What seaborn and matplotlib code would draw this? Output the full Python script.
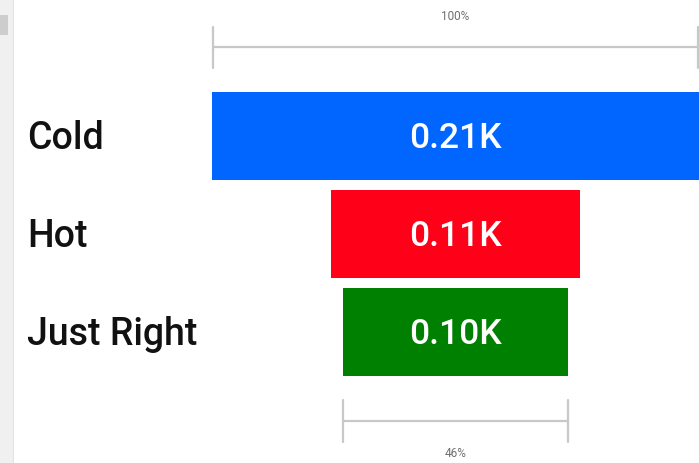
import matplotlib
matplotlib.use("Agg")
import matplotlib.pyplot as plt
import seaborn as sns
import pandas as pd
from matplotlib.patches import Rectangle

categories = ["Cold", "Hot", "Just Right"]
values = [210, 107, 97]
value_labels = ["0.21K", "0.11K", "0.10K"]
colors = ["#0066FF", "#FF0019", "#008000"]
top_pct = "100%"
bottom_pct = "46%"

sns.set_theme(style="white")
plt.rcParams["font.family"] = ["Roboto", "DejaVu Sans"]

fig = plt.figure(figsize=(6.99, 4.63), dpi=100)
ax = fig.add_axes([0, 0, 1, 1])

pal = dict(zip(categories, colors))
for sign in (1, -1):
    df = pd.DataFrame({"cat": categories, "half": [sign * v / 2 for v in values]})
    sns.barplot(data=df, y="cat", x="half", hue="cat", palette=pal, orient="h",
                width=0.9, dodge=False, legend=False, ax=ax, saturation=1,
                errorbar=None, linewidth=0)

ax.set_xlim(-196.4, 105.0)
ax.set_ylim(3.337, -1.388)
ax.axis("off")

# category labels and values
for i, (c, lab) in enumerate(zip(categories, value_labels)):
    ax.text(27 / 699, i + 0.03, c, transform=ax.get_yaxis_transform(), ha="left",
            va="center", fontsize=27, fontweight="medium", color="#111111")
    ax.text(0, i + 0.03, lab, ha="center", va="center", fontsize=25.5,
            fontweight="medium", color="white")

gray = "#C8C8C8"
# top bracket (first stage)
w0 = values[0] / 2 - 0.6
ax.plot([-w0, w0], [-0.908, -0.908], color=gray, lw=1.6, solid_capstyle="butt")
for xx in (-w0, w0):
    ax.plot([xx, xx], [-1.112, -0.694], color=gray, lw=1.6)
ax.text(0, -1.224, top_pct, ha="center", va="center", fontsize=8.5, color="#6E6E6E")

# bottom bracket (last stage)
wl = values[-1] / 2
ax.plot([-wl, wl], [2.908, 2.908], color=gray, lw=1.6, solid_capstyle="butt")
for xx in (-wl, wl):
    ax.plot([xx, xx], [2.694, 3.122], color=gray, lw=1.6)
ax.text(0, 3.235, bottom_pct, ha="center", va="center", fontsize=8.5, color="#6E6E6E")

# left scrollbar strip
fig.patches.append(Rectangle((0, 0), 13 / 699, 1, transform=fig.transFigure,
                             facecolor="#F0F0F0", edgecolor="none"))
fig.patches.append(Rectangle((0, 1 - 35 / 463), 8 / 699, 20 / 463,
                             transform=fig.transFigure, facecolor="#CDCDCD",
                             edgecolor="none"))
fig.patches.append(Rectangle((13 / 699, 0), 1.5 / 699, 1, transform=fig.transFigure,
                             facecolor="#E3E3E3", edgecolor="none"))

fig.savefig("out.png", dpi=100)
